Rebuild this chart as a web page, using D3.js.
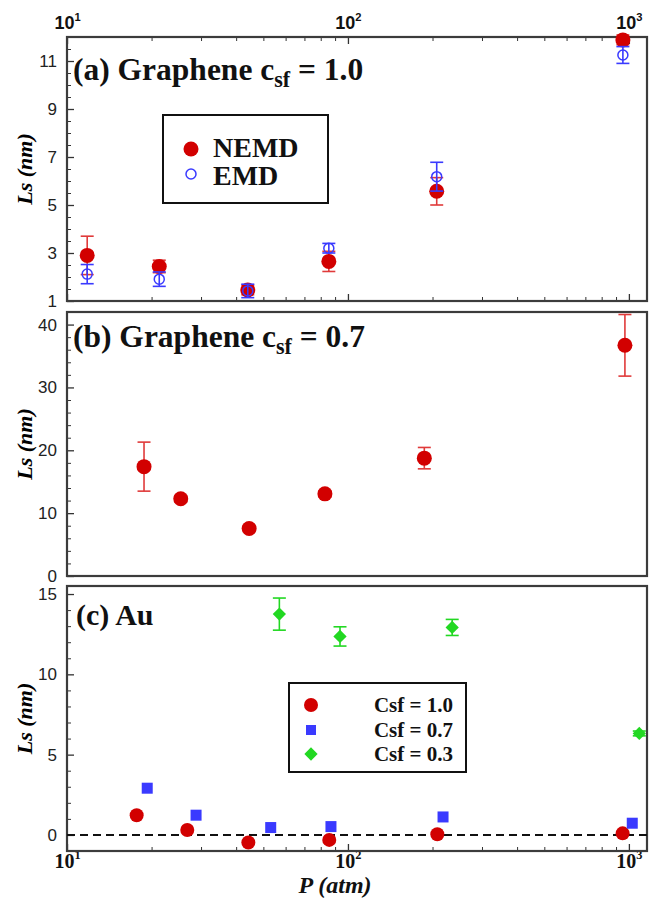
<!DOCTYPE html>
<html lang="en">
<head>
<meta charset="utf-8">
<script src="https://d3js.org/d3.v7.min.js"></script>
<style>
  body { margin: 0; background: #fff; }
  svg { display: block; }
  .tick text { font-family: "Liberation Sans", Arial, sans-serif; }
</style>
</head>
<body>
<div id="chart"></div>
<script>
// ---- data ----
// (a) Graphene csf = 1.0
var pA = [11.8, 21.3, 44, 85.5, 207, 952];
var nemdA = [2.9, 2.44, 1.46, 2.65, 5.57, 11.88];
var nemdAErr = [0.8, 0.26, 0.2, 0.42, 0.57, 0.2];
var emdA = [2.12, 1.91, 1.42, 3.2, 6.18, 11.25];
var emdAErr = [0.4, 0.3, 0.28, 0.2, 0.6, 0.35];
// (b) Graphene csf = 0.7
var pB = [18.8, 25.4, 44.5, 82.8, 187, 968];
var lsB = [17.4, 12.3, 7.55, 13.07, 18.75, 36.7];
var errB = [3.9, 0.5, 0.5, 0.5, 1.7, 4.9];
// (c) Au
var pC10 = [17.7, 26.8, 44.2, 85.8, 208, 950];
var lsC10 = [1.23, 0.31, -0.47, -0.31, 0.04, 0.1];
var pC07 = [19.3, 28.8, 53.1, 87, 218, 1028];
var lsC07 = [2.91, 1.23, 0.46, 0.52, 1.12, 0.73];
var pC03 = [57, 93.7, 235, 1089];
var lsC03 = [13.75, 12.36, 12.92, 6.32];
var errC03 = [1.0, 0.6, 0.5, 0.15];

var xMajor = [10, 100, 1000];
var legendA = ["NEMD", "EMD"];
var legendC = ["Csf = 1.0", "Csf = 0.7", "Csf = 0.3"];

var W = 649, H = 899;
var serif = '"Liberation Serif", "Times New Roman", serif';
var red = "#d20000", redErr = "#e03a3a", blue = "#3a3aff", green = "#22d822";

var svg = d3.select("#chart").append("svg")
    .attr("width", W).attr("height", H);

var x = d3.scaleLog().domain([10, 1160]).range([67, 647]);
var xMinor = [];
[10, 100, 1000].forEach(function (dec) {
    for (var k = 2; k <= 9; k++) if (k * dec < 1160) xMinor.push(k * dec);
});

var panels = [
    { key: "a", y: d3.scaleLinear().domain([1, 12]).range([301, 37]),
      major: [1, 3, 5, 7, 9, 11], minor: d3.range(1.5, 12, 0.5) },
    { key: "b", y: d3.scaleLinear().domain([0, 42]).range([576, 312]),
      major: [0, 10, 20, 30, 40], minor: d3.range(2, 42, 2) },
    { key: "c", y: d3.scaleLinear().domain([-1, 15.5]).range([851, 586]),
      major: [0, 5, 10, 15], minor: d3.range(-1, 15.5, 1) }
];

function supLabel(sel, fam, weight, size) {
    sel.each(function (d) {
        var t = d3.select(this).text(null)
            .style("font-family", fam).style("font-weight", weight)
            .style("font-size", size + "px").attr("fill", "#111");
        t.append("tspan").text("10");
        t.append("tspan").attr("dy", -size * 0.45).style("font-size", (size * 0.62) + "px")
            .text(Math.round(Math.log10(d)));
    });
}

panels.forEach(function (p) {
    var y = p.y;
    var g = svg.append("g");
    // y axis, ticks inside
    g.append("g").attr("transform", "translate(67,0)")
        .call(d3.axisLeft(y).tickValues(p.major).tickSize(-7).tickPadding(10).tickFormat(d3.format("d")))
        .call(function (a) {
            a.select(".domain").remove();
            a.selectAll("line").attr("stroke", "#333").attr("stroke-width", 1.3);
            a.selectAll("text").style("font-size", "17px").attr("fill", "#222");
        });
    g.append("g").attr("transform", "translate(67,0)")
        .call(d3.axisLeft(y).tickValues(p.minor.filter(function (v) { return p.major.indexOf(v) < 0; }))
            .tickSize(-4).tickFormat(""))
        .call(function (a) {
            a.select(".domain").remove();
            a.selectAll("line").attr("stroke", "#333").attr("stroke-width", 1);
        });

    // y title
    var yc = (y.range()[0] + y.range()[1]) / 2;
    g.append("text")
        .attr("transform", "translate(24," + yc + ") rotate(-90)")
        .attr("text-anchor", "middle").attr("dominant-baseline", "central")
        .style("font-family", serif).style("font-weight", "bold").style("font-style", "italic")
        .style("font-size", "22px").text("Ls (nm)");
});

// x axes: panel (a) top + bottom, panel (c) bottom
var yA = panels[0].y, yB = panels[1].y, yC = panels[2].y;
function xTicks(yPos, top, withLabels) {
    var ax = top ? d3.axisTop(x) : d3.axisBottom(x);
    svg.append("g").attr("transform", "translate(0," + yPos + ")")
        .call(ax.tickValues(xMinor).tickSize(-4).tickFormat(""))
        .call(function (a) { a.select(".domain").remove(); a.selectAll("line").attr("stroke", "#333"); });
    var ax2 = top ? d3.axisTop(x) : d3.axisBottom(x);
    return svg.append("g").attr("transform", "translate(0," + yPos + ")")
        .call(ax2.tickValues(xMajor).tickSize(-7).tickPadding(top ? 8 : 3))
        .call(function (a) {
            a.select(".domain").remove();
            a.selectAll("line").attr("stroke", "#333").attr("stroke-width", 1.3);
            if (!withLabels) a.selectAll("text").remove();
        });
}
xTicks(37, true, true).selectAll("text").call(supLabel, '"Liberation Sans", Arial, sans-serif', "bold", 18);
xTicks(301, false, false);
xTicks(851, false, true).selectAll("text").call(supLabel, serif, "bold", 20);

// frames
panels.forEach(function (p) {
    var r = p.y.range();
    svg.append("rect").attr("x", 67).attr("y", r[1])
        .attr("width", 647 - 67).attr("height", r[0] - r[1])
        .attr("fill", "none").attr("stroke", "#3c3c3c").attr("stroke-width", 2.2);
});

// helpers
function errBars(px, py, pe, y, color) {
    var d = px.map(function (v, i) { return { x: v, y: py[i], e: pe[i] }; });
    var g = svg.append("g").attr("stroke", color).attr("stroke-width", 1.6).attr("fill", "none");
    d.forEach(function (o) {
        var cx = x(o.x), t = y(o.y + o.e), b = y(o.y - o.e);
        g.append("line").attr("x1", cx).attr("x2", cx).attr("y1", t).attr("y2", b);
        g.append("line").attr("x1", cx - 6.5).attr("x2", cx + 6.5).attr("y1", t).attr("y2", t);
        g.append("line").attr("x1", cx - 6.5).attr("x2", cx + 6.5).attr("y1", b).attr("y2", b);
    });
}
function dots(px, py, y, r, fill) {
    svg.append("g").selectAll("circle").data(px).join("circle")
        .attr("cx", function (d) { return x(d); })
        .attr("cy", function (d, i) { return y(py[i]); })
        .attr("r", r).attr("fill", fill);
}

// ---- panel (a) ----
errBars(pA, nemdA, nemdAErr, yA, redErr);
dots(pA, nemdA, yA, 7.5, red);
errBars(pA, emdA, emdAErr, yA, blue);
svg.append("g").selectAll("circle").data(pA).join("circle")
    .attr("cx", function (d) { return x(d); })
    .attr("cy", function (d, i) { return yA(emdA[i]); })
    .attr("r", 5).attr("fill", "none").attr("stroke", blue).attr("stroke-width", 1.5);

function panelLabel(px, py, main, sub, tail, size) {
    var t = svg.append("text").attr("x", px).attr("y", py)
        .style("font-family", serif).style("font-weight", "bold").style("font-size", size + "px")
        .attr("fill", "#111");
    t.append("tspan").text(main);
    if (sub) {
        t.append("tspan").attr("dy", 7).style("font-size", (size * 0.7) + "px").text(sub);
        t.append("tspan").attr("dy", -7).text(tail);
    }
}
panelLabel(73, 80, "(a) Graphene c", "sf", " = 1.0", 31.5);

// legend (a)
svg.append("rect").attr("x", 163).attr("y", 115).attr("width", 165).attr("height", 88)
    .attr("fill", "#fff").attr("stroke", "#111").attr("stroke-width", 2);
svg.append("circle").attr("cx", 191).attr("cy", 149).attr("r", 7.5).attr("fill", red);
svg.append("circle").attr("cx", 191).attr("cy", 174).attr("r", 5).attr("fill", "none")
    .attr("stroke", blue).attr("stroke-width", 1.5);
svg.append("g").selectAll("text").data(legendA).join("text")
    .attr("x", 213).attr("y", function (d, i) { return 157 + i * 28; })
    .style("font-family", serif).style("font-weight", "bold").style("font-size", "28px")
    .attr("fill", "#111").text(function (d) { return d; });

// ---- panel (b) ----
errBars(pB, lsB, errB, yB, redErr);
dots(pB, lsB, yB, 7.5, red);
panelLabel(73, 347, "(b) Graphene c", "sf", " = 0.7", 31.5);

// ---- panel (c) ----
svg.append("line").attr("x1", 67).attr("x2", 647).attr("y1", yC(0)).attr("y2", yC(0))
    .attr("stroke", "#111").attr("stroke-width", 2).attr("stroke-dasharray", "8,5");
dots(pC10, lsC10, yC, 7, red);
svg.append("g").selectAll("rect").data(pC07).join("rect")
    .attr("x", function (d) { return x(d) - 5.5; })
    .attr("y", function (d, i) { return yC(lsC07[i]) - 5.5; })
    .attr("width", 11).attr("height", 11).attr("fill", blue);
errBars(pC03, lsC03, errC03, yC, green);
var diamond = d3.symbol(d3.symbolSquare, 88);
svg.append("g").selectAll("path").data(pC03).join("path")
    .attr("d", diamond)
    .attr("transform", function (d, i) { return "translate(" + x(d) + "," + yC(lsC03[i]) + ") rotate(45)"; })
    .attr("fill", green);
panelLabel(76, 625, "(c) Au", null, null, 30);

// legend (c)
svg.append("rect").attr("x", 289).attr("y", 683).attr("width", 177).attr("height", 89)
    .attr("fill", "#fff").attr("stroke", "#111").attr("stroke-width", 2);
var lc = svg.append("g");
lc.append("circle").attr("cx", 311).attr("cy", 705).attr("r", 7).attr("fill", red);
lc.append("rect").attr("x", 306).attr("y", 725).attr("width", 10).attr("height", 10).attr("fill", blue);
lc.append("path").attr("d", diamond).attr("transform", "translate(311,754) rotate(45)").attr("fill", green);
lc.selectAll("text").data(legendC).join("text")
    .attr("x", 453).attr("y", function (d, i) { return 712 + i * 24.5; })
    .attr("text-anchor", "end")
    .style("font-family", serif).style("font-weight", "bold").style("font-size", "21px")
    .attr("fill", "#111").text(function (d) { return d; });

// x title
svg.append("text").attr("x", 335).attr("y", 893).attr("text-anchor", "middle")
    .style("font-family", serif).style("font-weight", "bold").style("font-style", "italic")
    .style("font-size", "24px").attr("fill", "#111").text("P (atm)");
</script>
</body>
</html>
